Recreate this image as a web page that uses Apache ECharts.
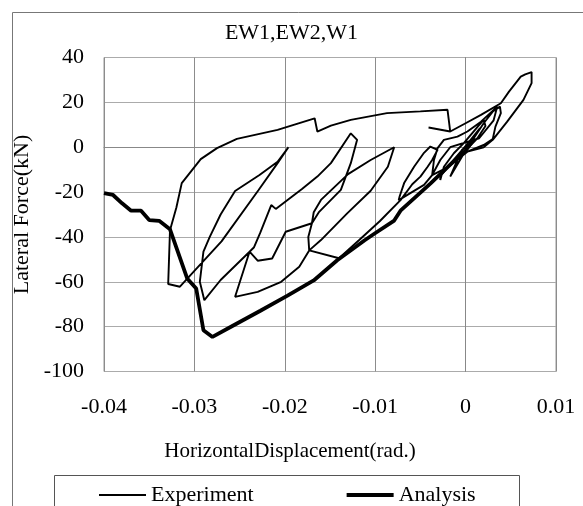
<!DOCTYPE html>
<html>
<head>
<meta charset="utf-8">
<title>EW1,EW2,W1</title>
<script src="https://cdn.jsdelivr.net/npm/echarts@6/dist/echarts.min.js"></script>
<style>
    html, body {
        margin: 0;
        padding: 0;
        background: #fff;
    }
    #chart {
        width: 583px;
        height: 506px;
    }
</style>
</head>
<body>
<div id="chart"></div>
<script>
// axis ticks
const xTicks = [-0.04, -0.03, -0.02, -0.01, 0, 0.01];
const yTicks = [-100, -80, -60, -40, -20, 0, 20, 40];

// [displacement (rad.), lateral force (kN)]
const experiment = [
    [-0.0041, 8.8], [-0.0017, 7], [0, 10.7], [0.0017, 14.4], [0.0039, 19.6], [0.0048, 24.8],
    [0.0061, 31.5], [0.0066, 32.5], [0.0073, 33.5], [0.0073, 28.6], [0.0064, 21.1], [0.0046, 11.4],
    [0.003, 3.3], [0.002, 0], [0.0002, -2],
    // small cycles round the origin
    [-0.0008, -4], [-0.0017, -8], [-0.0012, -6.5], [-0.0002, -0.5], [0.0008, 4.5], [0.0016, 8.5],
    [0.0012, 6.5], [0.0002, 1.5], [-0.0013, -5.5], [-0.0028, -13], [-0.0028, -14.6], [-0.0024, -8.7],
    [-0.0013, -2.7], [-0.0002, 1.8], [0.0013, 9], [0.002, 12.2], [0.0022, 9.5], [0.0013, 4],
    [0, -1.5], [-0.0017, -13.1], [-0.0009, -5.7], [-0.0004, -1.2], [0.0004, 1],
    [0.002, 10.7], [0.003, 15.9], [0.0038, 18.1], [0.0039, 15.2], [0.0033, 9.2], [0.003, 3.6],
    [0.002, 1], [0.0002, -2], [-0.002, -9], [-0.0037, -12.4], [-0.0035, -5.7], [-0.0031, -0.4],
    [-0.0024, 3.3], [-0.0009, 4.7], [0.0002, 7], [0.0017, 11.4], [0.0035, 18.1], [0.0031, 12],
    [0.0015, 4], [-0.0017, 0], [-0.0028, -5.7], [-0.0037, -12.4], [-0.0046, -16.8], [-0.0074, -23.6],
    [-0.0073, -22], [-0.0068, -16], [-0.0057, -8.7], [-0.0046, -2.5], [-0.0039, 0.3], [-0.0031, -1.2],
    [-0.0037, -5.7], [-0.0042, -8.7], [-0.005, -13.1], [-0.0059, -16.5], [-0.0072, -23.6],
    [-0.0095, -33], [-0.0118, -41.5], [-0.014, -49.5], [-0.0173, -46],
    // loops to -0.017 .. -0.013
    [-0.016, -41.4], [-0.0131, -29.5], [-0.0105, -19.4], [-0.0086, -8.7], [-0.0079, 0],
    [-0.0105, -5.7], [-0.013, -12], [-0.016, -23.5], [-0.0168, -29], [-0.017, -33.9],
    [-0.0162, -28.8], [-0.0138, -19], [-0.0127, -7.1], [-0.012, 3.3], [-0.0127, 6.2],
    [-0.0149, -7.1], [-0.0164, -13.1], [-0.0181, -18.6], [-0.021, -27.5], [-0.0215, -25.8],
    [-0.0227, -38], [-0.0234, -44.6], [-0.0239, -46.6], [-0.023, -50.6], [-0.0214, -49.6],
    [-0.0199, -37.7], [-0.017, -33.9], [-0.0174, -40], [-0.0173, -46], [-0.0184, -53.3],
    [-0.0204, -60], [-0.023, -64.5], [-0.0255, -66.7], [-0.0239, -46.6], [-0.0271, -59.2],
    [-0.0289, -68.2], [-0.0294, -60], [-0.029, -46.6], [-0.0283, -40], [-0.0271, -30],
    [-0.0255, -19.5], [-0.0228, -12.4], [-0.0208, -6.5], [-0.0196, 0], [-0.0208, -7.1],
    [-0.0229, -19.1], [-0.027, -42], [-0.0316, -62.2], [-0.0329, -61], [-0.0327, -37],
    [-0.032, -27], [-0.0314, -16], [-0.0293, -5.3], [-0.0275, -0.4], [-0.0253, 3.7],
    [-0.0208, 7.7], [-0.0167, 12.9], [-0.0164, 7], [-0.0149, 9.6], [-0.0127, 12.2],
    [-0.0087, 15.2], [-0.005, 16], [-0.002, 16.7], [-0.0017, 7]
];

const analysis = [
    [-0.04, -20.5], [-0.039, -21.3], [-0.038, -25], [-0.037, -28.3], [-0.0359, -28.3],
    [-0.035, -32.5], [-0.0339, -32.8], [-0.0327, -36.6], [-0.0308, -58.5], [-0.0298, -63],
    [-0.029, -81.6], [-0.028, -84.6], [-0.0257, -79.5], [-0.0227, -72.9], [-0.0197, -66.2],
    [-0.0168, -59.4], [-0.0142, -50.4], [-0.0112, -41.6], [-0.0101, -38.6], [-0.0079, -32.7],
    [-0.0072, -28.3], [-0.0039, -16.2], [-0.0015, -7], [0, -1.5], [0.0008, 3]
];

const font = 'Liberation Serif';
const myChart = echarts.init(document.getElementById('chart'));

const option = {
    animation: false,
    backgroundColor: '#fff',
    title: {
        text: 'EW1,EW2,W1',
        left: 'center',
        top: 22,
        padding: 0,
        textStyle: { fontFamily: font, fontSize: 22, fontWeight: 'normal', color: '#000' }
    },
    legend: {
        left: 99,
        top: 484,
        padding: 0,
        itemWidth: 47,
        itemHeight: 14,
        itemGap: 93,
        textStyle: { fontFamily: font, fontSize: 22, color: '#000' },
        data: [
            { name: 'Experiment', icon: 'path://M0,0H47V1.8H0Z' },
            { name: 'Analysis', icon: 'path://M0,0H47V4H0Z' }
        ]
    },
    grid: {
        left: 104,
        top: 57.5,
        width: 452,
        height: 314,
        show: true,
        borderColor: '#999',
        borderWidth: 1
    },
    xAxis: {
        type: 'value',
        min: xTicks[0],
        max: xTicks[xTicks.length - 1],
        interval: 0.01,
        name: 'HorizontalDisplacement(rad.)',
        nameLocation: 'middle',
        nameGap: 69,
        nameTextStyle: { fontFamily: font, fontSize: 21, color: '#000', padding: [0, 80, 0, 0] },
        axisLine: { show: true, lineStyle: { color: '#888' } },
        axisTick: { show: false },
        axisLabel: {
            margin: 25,
            fontFamily: font,
            fontSize: 22,
            color: '#000',
            formatter: v => String(+v.toFixed(2))
        },
        splitLine: { show: true, lineStyle: { color: '#8c8c8c' } }
    },
    yAxis: {
        type: 'value',
        min: yTicks[0],
        max: yTicks[yTicks.length - 1],
        interval: 20,
        name: 'Lateral Force(kN)',
        nameLocation: 'middle',
        nameGap: 61,
        nameTextStyle: { fontFamily: font, fontSize: 22, color: '#000' },
        axisLine: { show: true, lineStyle: { color: '#888' } },
        axisTick: { show: false },
        axisLabel: { margin: 20, fontFamily: font, fontSize: 22, color: '#000' },
        splitLine: { show: true, lineStyle: { color: '#ababab' } }
    },
    graphic: [
        {
            type: 'rect',
            silent: true,
            z: -1,
            shape: { x: 12.5, y: 12.5, width: 700, height: 700 },
            style: { fill: 'transparent', stroke: '#777', lineWidth: 1 }
        },
        {
            type: 'rect',
            silent: true,
            shape: { x: 54.5, y: 475.5, width: 465, height: 60 },
            style: { fill: 'transparent', stroke: '#555', lineWidth: 1 }
        }
    ],
    series: [
        {
            name: 'Experiment',
            type: 'line',
            data: experiment,
            symbol: 'none',
            color: '#000',
            lineStyle: { width: 1.9, color: '#000' }
        },
        {
            name: 'Analysis',
            type: 'line',
            data: analysis,
            symbol: 'none',
            color: '#000',
            lineStyle: { width: 3.8, color: '#000' }
        }
    ]
};
myChart.setOption(option);
</script>
</body>
</html>
